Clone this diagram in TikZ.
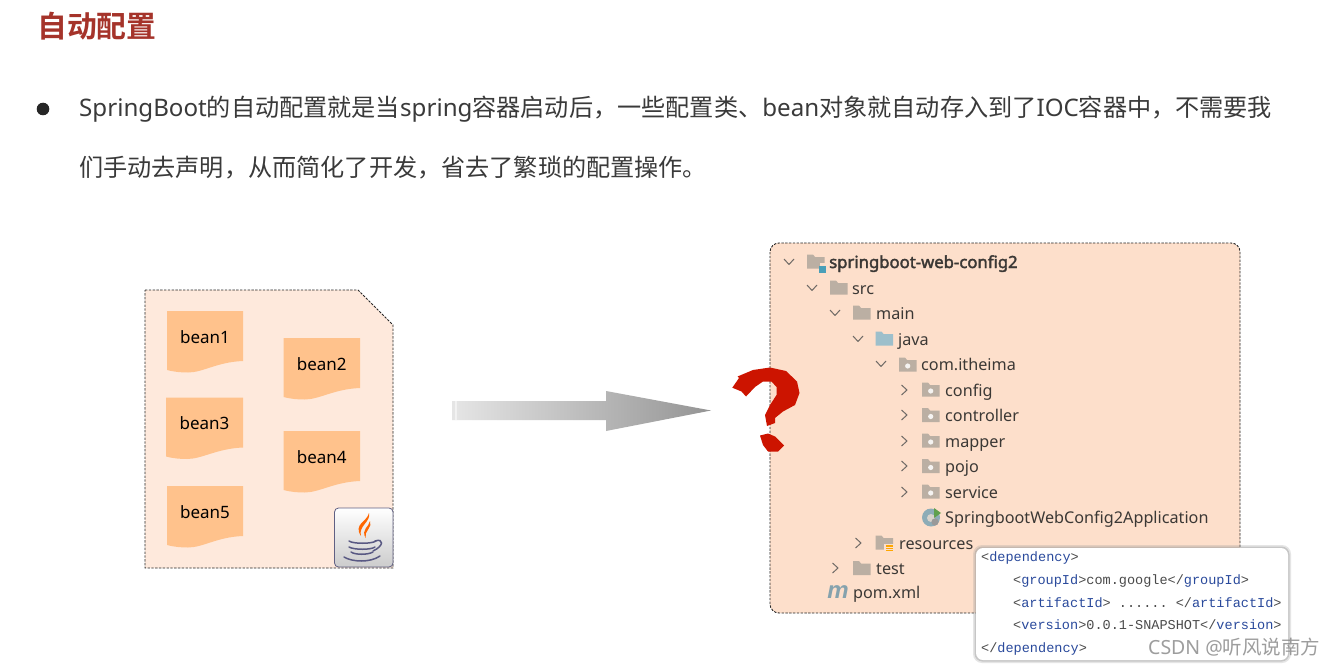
\documentclass[tikz,border=0pt]{standalone}
\usepackage{fontspec}
\setmainfont{Noto Sans}
\setmonofont{Liberation Mono}
\newfontfamily\cjk{Noto Sans CJK SC}
\newfontfamily\cjkb{Noto Sans CJK SC Bold}
\newfontfamily\miconfont{Liberation Sans}
\newfontfamily\fakebold[FakeBold=2.2]{Noto Sans}
\newcommand{\zh}[1]{{\cjk #1}}
\definecolor{titlered}{HTML}{A5332A}
\definecolor{bodyink}{HTML}{3A3A3A}
\definecolor{leftpanel}{HTML}{FEE9DC}
\definecolor{rightpanel}{HTML}{FDDFCB}
\definecolor{beanfill}{HTML}{FFC28C}
\definecolor{folderc}{HTML}{BBAFA3}
\definecolor{javac}{HTML}{9DBFCB}
\definecolor{rootblue}{HTML}{4A9FB8}
\definecolor{springgreen}{HTML}{5FA04E}
\definecolor{chevc}{HTML}{6F6A66}
\definecolor{treeink}{HTML}{3B3835}
\definecolor{xmlblue}{HTML}{2A4A9C}
\definecolor{xmlgray}{HTML}{4A4A4A}
\definecolor{qred}{HTML}{CC1400}
\tikzset{
  x=1pt,y=-1pt,
  panelline/.style={draw=black!85,line width=.9pt,dash pattern=on 2.4pt off 1.4pt},
  bodytext/.style={anchor=base west,inner sep=0pt,text=bodyink,font=\fontsize{24.15}{26}\selectfont},
  titletext/.style={anchor=base west,inner sep=0pt,text=titlered,font=\fontsize{29.8}{30}\cjkb},
  beantext/.style={inner sep=0pt,text=black,font=\fontsize{17}{18}\selectfont},
  treetext/.style={anchor=base west,inner sep=0pt,text=treeink,font=\fontsize{16.2}{18}\selectfont},
  treebold/.style={anchor=base west,inner sep=0pt,text=treeink,font=\fontsize{16.7}{18}\fakebold},
  xmltext/.style={anchor=base west,inner sep=0pt,text=xmlgray,font=\fontsize{13.55}{14}\ttfamily},
  chev/.style={draw=chevc,line width=1pt,line join=round},
}
\newcommand{\xt}[1]{\textcolor{xmlblue}{#1}}
\newcommand{\beandoc}[5]{% name,x,y,width,text
  \fill[beanfill] (#2,#3) -- ++(#4,0) -- ++(0,50)
     .. controls +(-26,1) and +(15,0) .. ({#2+21},{#3+61.5})
     .. controls +(-7,0) and +(8,2) .. (#2,{#3+59}) -- cycle;
  \node[beantext] (#1) at ({#2+#4/2},{#3+26}) {#5};}
\newcommand{\chevd}[2]{\draw[chev] (#1-5,#2-3) -- (#1,#2+2.5) -- (#1+5,#2-3);}
\newcommand{\chevr}[2]{\draw[chev] (#1-2.5,#2-5) -- (#1+3,#2) -- (#1-2.5,#2+5);}
\newcommand{\folder}[3][folderc]{%
  \fill[#1] (#2,#3-7.5) -- (#2+6,#3-7.5) -- (#2+8,#3-5) -- (#2+17.5,#3-5) -- (#2+17.5,#3+6.5) -- (#2,#3+6.5) -- cycle;}
\newcommand{\pkgfolder}[2]{\folder{#1}{#2}\fill[white!85!folderc] (#1+8.7,#2+1) circle[radius=2.6pt];}
\begin{document}
\begin{tikzpicture}
\useasboundingbox (0,0) rectangle (1335,666);
\fill[white] (0,0) rectangle (1335,666);
% heading
\node[titletext] (title) at (37,37.5) {自动配置};
\fill[black!85] (43,109) circle[radius=6.3pt];
\node[bodytext] (line1) at (79,117) {SpringBoot\zh{的自动配置就是当}spring\zh{容器启动后，一些配置类、}bean\zh{对象就自动存入到了}IOC\zh{容器中，不需要我}};
\node[bodytext] (line2) at (79,176) {\zh{们手动去声明，从而简化了开发，省去了繁琐的配置操作。}};
% left panel
\path[panelline,fill=leftpanel] (145,290) -- (358,290) -- (393,325) -- (393,568) -- (145,568) -- cycle;
\beandoc{b1}{167}{311}{76}{bean1}
\beandoc{b2}{283.5}{338}{76.5}{bean2}
\beandoc{b3}{166}{397.5}{77}{bean3}
\beandoc{b4}{283.5}{431}{76.5}{bean4}
\beandoc{b5}{167}{486}{76}{bean5}
% java icon
\draw[draw=black!45!blue!25!gray,line width=.8pt,rounded corners=4pt,top color=white,bottom color=black!20] (334.5,508) rectangle (393,567);
\fill[orange!80!red] (369,513) .. controls (367,522) and (353,524) .. (361,536) .. controls (358,526) and (371,522) .. (369,513);
\fill[orange!80!red] (370,521) .. controls (369,527) and (361,529) .. (365.5,538) .. controls (364,531) and (373,527) .. (370,521);
\begin{scope}[draw=black!45!blue!30!gray,line width=1.5pt,line cap=round]
\draw (349,541) .. controls (353,544) and (372,544) .. (376,541);
\draw (349,547) .. controls (354,550) and (371,550) .. (375,547);
\draw (351,552) .. controls (355,555) and (368,555) .. (373,552);
\draw (344,557) .. controls (352,562) and (370,563) .. (380,556);
\draw (375,541) .. controls (384,538) and (384,546) .. (373,551);
\end{scope}
% arrow
\path[left color=black!10,right color=black!42] (452,401) -- (606,401) -- (606,391) -- (711,410.5) -- (606,431) -- (606,420) -- (452,420) -- cycle;
\fill[white,opacity=.5] (455,401) rectangle (457,420);
% right panel
\path[panelline,fill=rightpanel,rounded corners=9pt] (770,243) rectangle (1240,613);
% tree
\chevd{789}{262}\chevd{812}{288}\chevd{835}{313}\chevd{858}{339}\chevd{881}{364}
\chevr{904}{390}\chevr{904}{415}\chevr{904}{441}\chevr{904}{466}\chevr{904}{492}
\chevr{858}{543}\chevr{835}{568}
\folder{807}{262}\fill[rightpanel] (819,263) rectangle (827,274);\fill[folderc] (819,263) rectangle (820,268);\fill[rootblue] (819,266) rectangle (826,273);
\folder{830}{288}\folder{853}{313}\folder[javac]{875.5}{339}
\pkgfolder{899}{365}\pkgfolder{922}{390}\pkgfolder{922}{415.5}\pkgfolder{922}{441}\pkgfolder{922}{466.5}\pkgfolder{922}{492}
\folder{875.5}{543}\fill[rightpanel] (884,544) rectangle (894,552);\fill[orange!70!yellow] (886,545) rectangle (893,552);
\foreach \yy in {546.5,548.5,550.5}{\fill[rightpanel] (886,\yy) rectangle (893,\yy+.6);}
\folder{853}{568.5}
\node[treebold] (t0) at (829,268) {springboot-web-config2};
\node[treetext] (t1) at (852,294) {src};
\node[treetext] (t2) at (876,319) {main};
\node[treetext] (t3) at (898,345) {java};
\node[treetext] (t4) at (921,370) {com.itheima};
\node[treetext] (t5) at (945,396) {config};
\node[treetext] (t6) at (945,421) {controller};
\node[treetext] (t7) at (945,447) {mapper};
\node[treetext] (t8) at (945,472) {pojo};
\node[treetext] (t9) at (945,498) {service};
\fill[javac!90!black] (931,517.5) circle[radius=9pt];
\fill[rightpanel!60!javac] (931,518) circle[radius=4pt];
\fill[black!40] (935,522) circle[radius=3.6pt];
\fill[white!60!black] (935,522) circle[radius=1.5pt];
\fill[springgreen] (934,508) -- (941,513) -- (934,518) -- cycle;
\node[treetext] (t10) at (945,523) {SpringbootWebConfig2Application};
\node[treetext] (t11) at (899,549) {resources};
\node[treetext] (t12) at (876,574) {test};
\node[anchor=base,inner sep=0pt,text=javac!85!black,font=\fontsize{24}{24}\miconfont\bfseries\itshape] (micon) at (838,598.5) {m};
\node[treetext] (t13) at (853,598) {pom.xml};
% question mark
\fill[qred] (732.3,387.7) -- (739,378) -- (737.5,376.5) -- (753,370) -- (770,367.5) -- (786,371) -- (797,381.5) -- (799.5,393) -- (795,405) -- (783,411.5) -- (775,418) -- (775,423) -- (767,426) -- (765,415) -- (770,405) -- (776.5,395) -- (776.5,387) -- (771.5,381.5) -- (763,381.5) -- (755,387) -- (746,396.5) -- (741.5,391.5) -- cycle;
\fill[qred] (760,435.5) -- (768,433.5) -- (775,436.5) -- (784,445.5) -- (778,451.5) -- (768,451.5) -- (763,445) -- cycle;
% xml box
\fill[black!40,opacity=.25,rounded corners=9pt] (973,545) rectangle (1291,663);
\fill[black!40,opacity=.4,rounded corners=8pt] (974.5,546.5) rectangle (1289.5,661.5);
\fill[white,rounded corners=7pt] (976,548) rectangle (1288,660);
\node[xmltext] (x1) at (981,561) {<\xt{dependency}>};
\node[xmltext] (x2) at (1013,584) {<\xt{groupId}>com.google</\xt{groupId}>};
\node[xmltext] (x3) at (1013,607) {<\xt{artifactId}> ...... </\xt{artifactId}>};
\node[xmltext] (x4) at (1013,629.5) {<\xt{version}>0.0.1-SNAPSHOT</\xt{version}>};
\node[xmltext] (x5) at (981,652) {</\xt{dependency}>};
% watermark
\node[anchor=base west,inner sep=0pt,text=black!45,opacity=.85,font=\fontsize{19.5}{20}\selectfont] (wm) at (1148,654) {CSDN @\zh{听风说南方}};
\end{tikzpicture}
\end{document}
